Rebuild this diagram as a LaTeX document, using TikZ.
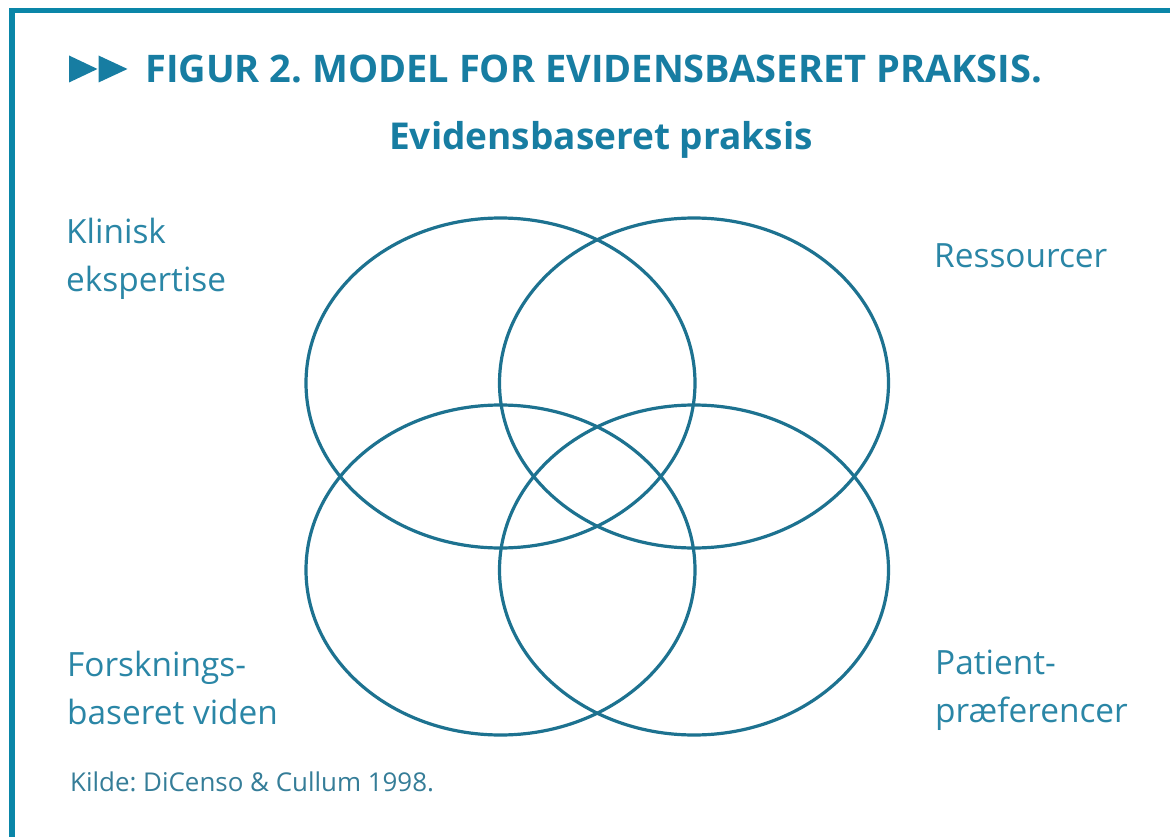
\documentclass[tikz,border=0pt]{standalone}
\usepackage{fontspec}
\setmainfont{Open Sans}
\usetikzlibrary{shapes.geometric}
\frenchspacing
\definecolor{frame}{HTML}{0A86A8}
\definecolor{titleblue}{HTML}{177DA2}
\definecolor{ringcol}{HTML}{1D7290}
\definecolor{labelcol}{HTML}{2A86A6}
\definecolor{srccol}{HTML}{357D98}
\tikzset{
  ring/.style={ellipse, draw=ringcol, line width=3.2pt, minimum width=389pt, minimum height=330pt, inner sep=0pt},
  lbl/.style={font=\fontsize{33.4}{48}\selectfont, text=labelcol, inner sep=0pt, align=left},
  framebar/.style={draw=frame, line width=5.5pt},
  tri/.style={fill=titleblue, draw=none}
}
\begin{document}
\begin{tikzpicture}[x=1pt,y=-1pt]
\useasboundingbox (0,0) rectangle (1170,837);
\fill[white] (0,0) rectangle (1170,837);
\coordinate (fa) at (12,837);
\coordinate (fb) at (12,10.7);
\coordinate (fc) at (1170,10.7);
\draw[framebar] (fa) -- (fb) -- (fc);
\fill[tri] (69,55.5) -- (97.5,69) -- (69,82.5) -- cycle;
\fill[tri] (98.5,55.5) -- (127.5,69) -- (98.5,82.5) -- cycle;
\node[anchor=base west, inner sep=0pt, text=titleblue, font=\fontsize{38}{44}\selectfont\bfseries] (title) at (145,83) {FIGUR 2. MODEL FOR EVIDENSBASERET PRAKSIS.};
\node[anchor=base, inner sep=0pt, text=titleblue, font=\fontsize{37}{44}\selectfont\bfseries] (sub) at (601,150) {Evidensbaseret praksis};
\node[ring] (tl) at (500.5,383) {};
\node[ring] (tr) at (694,383) {};
\node[ring] (bl) at (500.5,570) {};
\node[ring] (br) at (694,570) {};
\node[lbl, anchor=base west] (klin) at (66,291) {Klinisk\\ekspertise};
\node[lbl, anchor=base west] (res) at (934,268) {Ressourcer};
\node[lbl, anchor=base west] (forsk) at (67,724) {Forsknings-\\baseret viden};
\node[lbl, anchor=base west] (pat) at (935,722) {Patient-\\præferencer};
\node[anchor=base west, inner sep=0pt, text=srccol, font=\fontsize{25.9}{30}\selectfont] (src) at (70,791) {Kilde: DiCenso \& Cullum 1998.};
\end{tikzpicture}
\end{document}
